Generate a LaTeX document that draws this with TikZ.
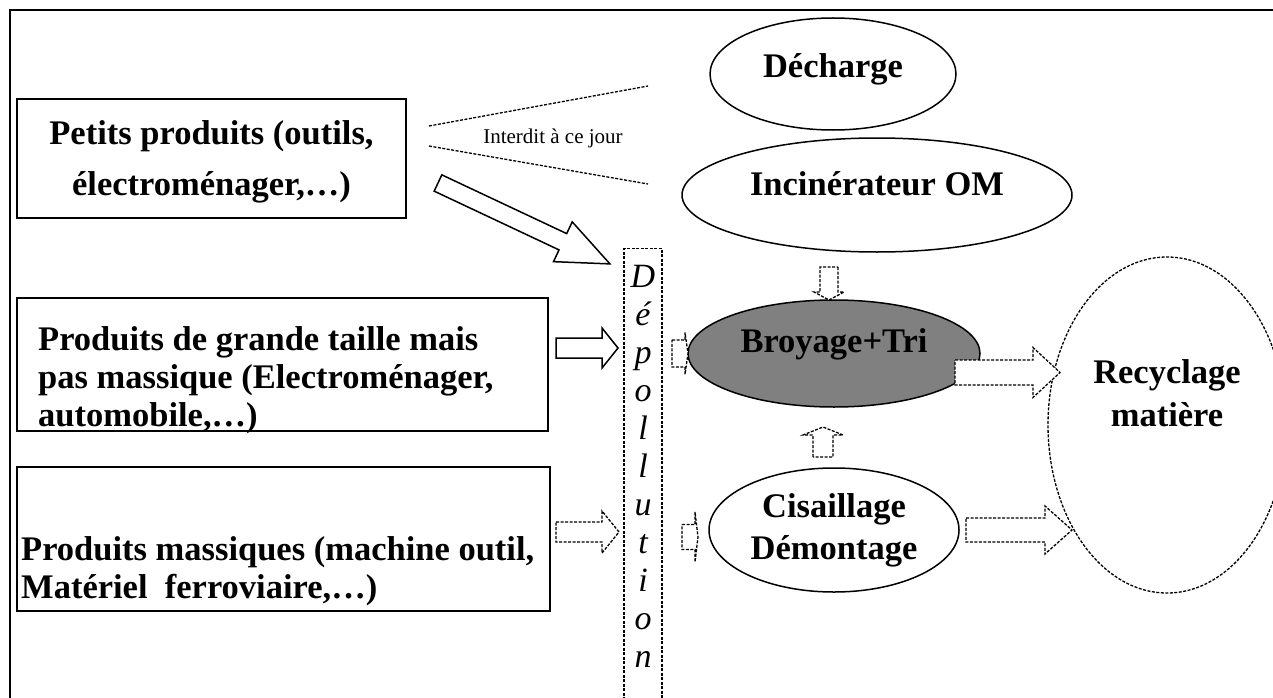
\documentclass[tikz,border=0pt]{standalone}
\usepackage{fontspec}
\setmainfont{Liberation Serif}
\usetikzlibrary{shapes.geometric}
\definecolor{broygray}{RGB}{128,128,128}
\tikzset{
  prodbox/.style={draw, line width=1.6pt, inner sep=0pt},
  prodtext/.style={font=\bfseries\fontsize{34.5}{38}\selectfont, inner sep=0pt, align=left},
  titre/.style={font=\bfseries\fontsize{34.5}{42}\selectfont, inner sep=0pt, align=center},
  ovale/.style={ellipse, draw, line width=1.5pt, inner sep=0pt},
  pointille/.style={dash pattern=on 3pt off 1.5pt, line width=1.3pt},
  lettre/.style={font=\itshape\fontsize{34}{40}\selectfont, inner sep=0pt},
  plein/.style={draw, line width=1.5pt, fill=white},
  tiret/.style={draw, pointille, fill=white},
  pics/hollowarrow/.style n args={4}{code={
    \path[pic actions] (0,-#2) -- ({#1-#4},-#2) -- ({#1-#4},-#3) -- (#1,0)
      -- ({#1-#4},#3) -- ({#1-#4},#2) -- (0,#2) -- cycle;
  }},
}
\begin{document}
\begin{tikzpicture}[x=1pt, y=-1pt]
  \useasboundingbox (0,0) rectangle (1273,698);
  \draw[line width=2pt] (10,698) -- (10,10) -- (1273,10);

  % les produits
  \node[prodbox, minimum width=389, minimum height=119] (petits) at (211.5,158.5) {};
  \node[prodbox, minimum width=531, minimum height=133] (grands) at (282.5,364.5) {};
  \node[prodbox, minimum width=533, minimum height=144] (massifs) at (283.5,539) {};
  \node[prodtext, align=center, font=\bfseries\fontsize{34.5}{51}\selectfont] (tpetits) at (211.5,162) {Petits produits (outils,\\électroménager,…)};
  \node[prodtext, anchor=north west] (tgrands) at (38,326) {Produits de grande taille mais\\pas massique (Electroménager,\\automobile,…)};
  \node[prodtext, anchor=north west] (tmassifs) at (21,536) {Produits massiques (machine outil,\\Matériel~ ferroviaire,…)};

  % interdit
  \coordinate (g1) at (429,126);
  \coordinate (g2) at (648,86);
  \coordinate (g3) at (429,146);
  \coordinate (g4) at (648,184);
  \draw[pointille] (g1) -- (g2);
  \draw[pointille] (g3) -- (g4);
  \node[font=\fontsize{21}{24}\selectfont, inner sep=0pt] (interdit) at (553,138) {Interdit à ce jour};

  % depollution
  \node[draw, pointille, minimum width=38, minimum height=470, anchor=north] (depol) at (643,248) {};
  \foreach \lettre [count=\i from 0] in {D,é,p,o,l,l,u,t,i,o,n}
    \node[lettre, anchor=base] (l\i) at (643,287+38*\i) {\lettre};

  % filieres
  \node[ovale, minimum width=246, minimum height=112] (decharge) at (833,74) {};
  \node[ovale, minimum width=390, minimum height=114] (incin) at (877,195) {};
  \node[ovale, fill=broygray, minimum width=292, minimum height=107] (broyage) at (834,353.5) {};
  \node[ovale, minimum width=250, minimum height=124] (cisail) at (834,530) {};
  \node[ovale, pointille, minimum width=238, minimum height=336] (recyc) at (1167,425) {};

  \node[titre, anchor=base] (tdech) at (833,78) {Décharge};
  \node[titre, anchor=base] (tincin) at (877,195) {Incinérateur OM};
  \node[titre, anchor=base] (tbroy) at (834,352) {Broyage+Tri};
  \node[titre] (tcisail) at (834,530) {Cisaillage\\Démontage};
  \node[titre, font=\bfseries\fontsize{34.5}{43}\selectfont] (trecyc) at (1167,393) {Recyclage\\matière};

  % fleches
  \pic[plein, rotate=-25.2] (fdiag) at (438,183) {hollowarrow={190}{9}{22}{52}};
  \pic[plein] (fgrands) at (556,348) {hollowarrow={62}{10}{20}{16}};
  \pic[tiret] (fmassifs) at (556,532) {hollowarrow={63}{10}{21}{17}};
  \pic[tiret] (fbroy) at (672,353.5) {hollowarrow={16}{13.5}{21}{3}};
  \pic[tiret] (fcis) at (682,537) {hollowarrow={16}{12.5}{25}{3}};
  \pic[tiret, rotate=-90] (fincin) at (829,267) {hollowarrow={33}{9}{15}{8}};
  \pic[tiret, rotate=90] (fmonte) at (823,457) {hollowarrow={30}{10}{20}{8}};
  \pic[tiret] (frec1) at (955,372.5) {hollowarrow={105}{12.5}{25}{27}};
  \pic[tiret] (frec2) at (966,530) {hollowarrow={106}{12}{24}{27}};
\end{tikzpicture}
\end{document}
